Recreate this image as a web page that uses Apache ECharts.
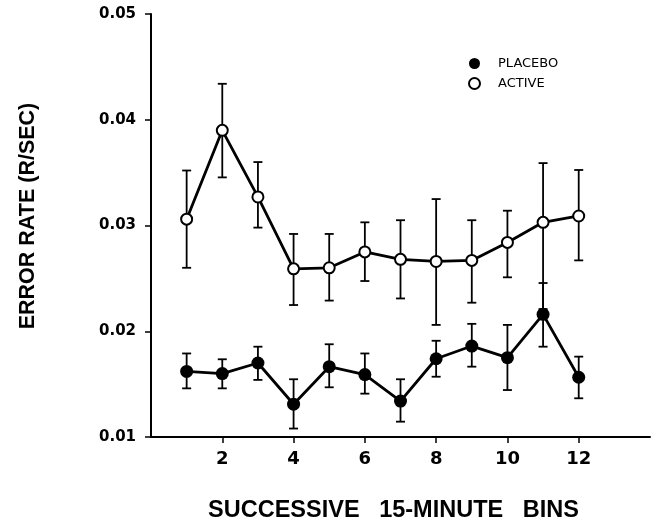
<!DOCTYPE html>
<html>
<head>
<meta charset="utf-8">
<script src="https://cdn.jsdelivr.net/npm/echarts@6/dist/echarts.min.js"></script>
<style>
  html, body { margin: 0; padding: 0; background: #fff; }
  #chart { width: 653px; height: 525px; }
</style>
</head>
<body>
<div id="chart"></div>
<script>
// bins (x positions)
const bins = [1, 2, 3, 4, 5, 6, 7, 8, 9, 10, 11, 12];

// placebo means and error bar ends
const placebo = [0.0162, 0.0160, 0.0170, 0.0131, 0.01665, 0.0159, 0.0134, 0.0174, 0.0186, 0.0175, 0.0216, 0.01565];
const placeboHigh = [0.0179, 0.01735, 0.01854, 0.01546, 0.01877, 0.0179, 0.01546, 0.0191, 0.0207, 0.0206, 0.02456, 0.0176];
const placeboLow = [0.0146, 0.0146, 0.0154, 0.0108, 0.0147, 0.0141, 0.01145, 0.0157, 0.01665, 0.01444, 0.01854, 0.01366];

// active means and error bar ends
const active = [0.0306, 0.0390, 0.0327, 0.0259, 0.0260, 0.0275, 0.0268, 0.0266, 0.0267, 0.0284, 0.0303, 0.0309];
const activeHigh = [0.0352, 0.0434, 0.0360, 0.0292, 0.0292, 0.0303, 0.0305, 0.0325, 0.0305, 0.0314, 0.0359, 0.03525];
const activeLow = [0.0260, 0.03455, 0.0298, 0.02248, 0.0229, 0.02475, 0.0231, 0.0206, 0.0227, 0.0251, 0.0221, 0.0267];

const xTicks = [2, 4, 6, 8, 10, 12];

const chart = echarts.init(document.getElementById('chart'));

// draws one error bar (vertical line + caps)
function errorBar(params, api) {
    const x = api.value(0);
    const top = api.coord([x, api.value(1)]);
    const bottom = api.coord([x, api.value(2)]);
    const cap = 4.5;
    const style = { stroke: '#000', lineWidth: 1.8 };
    return {
        type: 'group',
        children: [
            { type: 'line', shape: { x1: top[0], y1: top[1], x2: bottom[0], y2: bottom[1] }, style: style },
            { type: 'line', shape: { x1: top[0] - cap, y1: top[1], x2: top[0] + cap, y2: top[1] }, style: style },
            { type: 'line', shape: { x1: bottom[0] - cap, y1: bottom[1], x2: bottom[0] + cap, y2: bottom[1] }, style: style }
        ]
    };
}

const option = {
    animation: false,
    backgroundColor: '#fff',
    grid: { left: 151, right: 3, top: 14, bottom: 88, outerBoundsMode: 'none' },
    legend: {
        orient: 'vertical',
        left: 468,
        top: 57,
        padding: 0,
        itemWidth: 11,
        itemHeight: 11,
        itemGap: 7,
        icon: 'circle',
        textStyle: { fontFamily: 'DejaVu Sans', fontSize: 13, color: '#000', padding: [0, 0, 0, 13] },
        data: [
            { name: 'PLACEBO', itemStyle: { color: '#000', borderColor: '#000', borderWidth: 0 } },
            { name: 'ACTIVE', itemStyle: { color: '#fff', borderColor: '#000', borderWidth: 2 } }
        ]
    },
    xAxis: {
        type: 'value',
        min: 0,
        max: 14,
        interval: 2,
        name: 'SUCCESSIVE   15-MINUTE   BINS',
        nameLocation: 'middle',
        nameGap: 62,
        nameTextStyle: {
            fontFamily: 'Liberation Sans', fontWeight: 'bold', fontSize: 23.5, color: '#000',
            padding: [0, 14, 0, 0]
        },
        splitLine: { show: false },
        axisLine: { lineStyle: { color: '#000', width: 2 } },
        axisTick: { customValues: xTicks, length: 6, lineStyle: { color: '#000', width: 1.5 } },
        axisLabel: {
            customValues: xTicks, margin: 13,
            fontFamily: 'DejaVu Sans', fontWeight: 'bold', fontSize: 18, color: '#000'
        }
    },
    yAxis: {
        type: 'value',
        min: 0.01,
        max: 0.05,
        interval: 0.01,
        name: 'ERROR RATE (R/SEC)',
        nameLocation: 'middle',
        nameGap: 112,
        nameTextStyle: {
            fontFamily: 'Liberation Sans', fontWeight: 'bold', fontSize: 21.5, color: '#000',
            padding: [0, 0, 0, 19]
        },
        splitLine: { show: false },
        axisLine: { show: true, lineStyle: { color: '#000', width: 2 } },
        axisTick: { show: true, length: 6, lineStyle: { color: '#000', width: 1.5 } },
        axisLabel: {
            margin: 15, formatter: v => v.toFixed(2),
            fontFamily: 'DejaVu Sans', fontWeight: 'bold', fontSize: 15, color: '#000'
        }
    },
    series: [
        {
            name: 'placebo-err',
            type: 'custom',
            renderItem: errorBar,
            data: bins.map((b, i) => [b, placeboHigh[i], placeboLow[i]]),
            z: 1
        },
        {
            name: 'active-err',
            type: 'custom',
            renderItem: errorBar,
            data: bins.map((b, i) => [b, activeHigh[i], activeLow[i]]),
            z: 1
        },
        {
            name: 'PLACEBO',
            type: 'line',
            data: bins.map((b, i) => [b, placebo[i]]),
            symbol: 'circle',
            symbolSize: 13,
            lineStyle: { color: '#000', width: 2.8 },
            itemStyle: { color: '#000' },
            z: 3
        },
        {
            name: 'ACTIVE',
            type: 'line',
            data: bins.map((b, i) => [b, active[i]]),
            symbol: 'circle',
            symbolSize: 11,
            showAllSymbol: true,
            lineStyle: { color: '#000', width: 2.8 },
            itemStyle: { color: '#fff', borderColor: '#000', borderWidth: 2 },
            z: 3
        }
    ]
};

chart.setOption(option);
</script>
</body>
</html>
